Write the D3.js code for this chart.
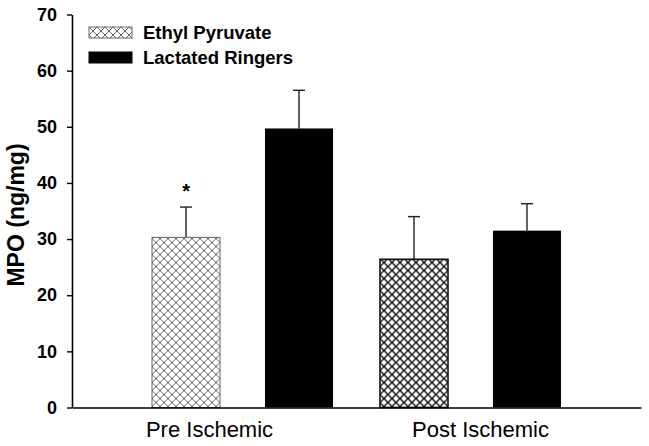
<!DOCTYPE html>
<html>
<head>
<meta charset="utf-8">
<script src="https://cdn.jsdelivr.net/npm/d3@7"></script>
<style>
  body { margin: 0; background: #fff; }
  svg { display: block; font-family: "Liberation Sans", Arial, sans-serif; }
</style>
</head>
<body>
<div id="chart"></div>
<script>
// data
const groups = ["Pre Ischemic", "Post Ischemic"];
const series = ["Ethyl Pyruvate", "Lactated Ringers"];
const means = [[30.3, 49.7], [26.4, 31.5]];
const errors = [[5.4, 6.8], [7.6, 4.8]];
const yTicks = [0, 10, 20, 30, 40, 50, 60, 70];
const starred = [[true, false], [false, false]];

const svg = d3.select("#chart").append("svg")
    .attr("width", 649)
    .attr("height", 446);

let margin = {top: 14.5, right: 8, bottom: 38.5, left: 72},
    width = 649 - margin.left - margin.right,
    height = 446 - margin.top - margin.bottom;

let defs = svg.append("defs");
function hatch(id, color, sw) {
  let p = defs.append("pattern")
      .attr("id", id)
      .attr("patternUnits", "userSpaceOnUse")
      .attr("width", 8)
      .attr("height", 8);
  p.append("rect").attr("width", 8).attr("height", 8).attr("fill", "#fff");
  p.append("path")
      .attr("d", "M0,0L8,8M8,0L0,8M-4,4L4,12M4,-4L12,4M-4,4L4,-4M4,12L12,4")
      .attr("stroke", color)
      .attr("stroke-width", sw);
}
hatch("hatchLight", "#555", 0.9);
hatch("hatchDark", "#111", 1.4);

let x0 = d3.scaleBand().domain(groups).range([0, width])
    .paddingInner(0.206).paddingOuter(0.351);
let x1 = d3.scaleBand().domain(series).range([0, x0.bandwidth()])
    .paddingInner(0.398).paddingOuter(0);
let y = d3.scaleLinear().domain([0, 70]).range([height, 0]);

let g = svg.append("g")
    .attr("transform", "translate(" + margin.left + "," + margin.top + ")");

let rows = [];
groups.forEach((grp, i) => series.forEach((s, j) => rows.push({
  grp: grp, s: s, i: i, j: j, v: means[i][j], e: errors[i][j], star: starred[i][j]
})));

function fillOf(d) {
  if (d.j === 1) return "#000";
  return d.i === 0 ? "url(#hatchLight)" : "url(#hatchDark)";
}

// error bars (upper only) behind the bars
let eb = g.selectAll(".err").data(rows).enter().append("g").attr("class", "err");
eb.append("line")
    .attr("x1", d => x0(d.grp) + x1(d.s) + x1.bandwidth() / 2)
    .attr("x2", d => x0(d.grp) + x1(d.s) + x1.bandwidth() / 2)
    .attr("y1", d => y(d.v))
    .attr("y2", d => y(d.v + d.e))
    .attr("stroke", "#222").attr("stroke-width", 1.4);
eb.append("line")
    .attr("x1", d => x0(d.grp) + x1(d.s) + x1.bandwidth() / 2 - 6)
    .attr("x2", d => x0(d.grp) + x1(d.s) + x1.bandwidth() / 2 + 6)
    .attr("y1", d => y(d.v + d.e))
    .attr("y2", d => y(d.v + d.e))
    .attr("stroke", "#222").attr("stroke-width", 1.4);

g.selectAll(".bar").data(rows).enter().append("rect")
    .attr("class", "bar")
    .attr("x", d => x0(d.grp) + x1(d.s))
    .attr("y", d => y(d.v))
    .attr("width", x1.bandwidth())
    .attr("height", d => height - y(d.v))
    .attr("fill", fillOf)
    .attr("stroke", d => d.j === 1 ? "#000" : (d.i === 0 ? "#666" : "#111"))
    .attr("stroke-width", d => d.j === 1 ? 0 : (d.i === 0 ? 1 : 1.6));

g.selectAll(".star").data(rows.filter(d => d.star)).enter().append("text")
    .attr("class", "star")
    .attr("x", d => x0(d.grp) + x1(d.s) + x1.bandwidth() / 2)
    .attr("y", d => y(d.v + d.e) - 9)
    .attr("text-anchor", "middle")
    .attr("font-size", 20)
    .attr("font-weight", "bold")
    .text("*");

// axes
let yAxis = g.append("g")
    .attr("class", "axis axis--y")
    .call(d3.axisLeft(y).tickValues(yTicks).tickSize(5).tickSizeOuter(0).tickPadding(10));
yAxis.select(".domain").attr("stroke", "#000").attr("stroke-width", 1.6);
yAxis.selectAll(".tick line").attr("stroke", "#000").attr("stroke-width", 1.4);
yAxis.selectAll("text")
    .attr("font-size", 18).attr("font-weight", "bold")
    .attr("font-family", "Liberation Sans, Arial, sans-serif")
    .attr("fill", "#000");

// the category labels sit a little off the group centres in the original
let labelShift = {"Pre Ischemic": -33, "Post Ischemic": 10};
let xAxis = g.append("g")
    .attr("class", "axis axis--x")
    .attr("transform", "translate(0," + height + ")")
    .call(d3.axisBottom(x0).tickSize(0).tickSizeOuter(0).tickPadding(14));
xAxis.select(".domain").attr("stroke", "#000").attr("stroke-width", 1.6);
xAxis.selectAll("text")
    .attr("font-size", 22)
    .attr("dx", d => labelShift[d])
    .attr("font-family", "Liberation Sans, Arial, sans-serif")
    .attr("fill", "#000");

svg.append("text")
    .attr("transform", "translate(24," + 215 + ") rotate(-90)")
    .attr("text-anchor", "middle")
    .attr("font-size", 23)
    .attr("font-weight", "bold")
    .text("MPO (ng/mg)");

// legend
let legend = svg.selectAll(".legend").data(series).enter().append("g")
    .attr("class", "legend")
    .attr("transform", (d, i) => "translate(89," + (27 + i * 25) + ")");
legend.append("rect")
    .attr("width", 43).attr("height", 11)
    .attr("fill", (d, i) => i === 0 ? "url(#hatchLight)" : "#000")
    .attr("stroke", (d, i) => i === 0 ? "#666" : "#000")
    .attr("stroke-width", 1);
legend.append("text")
    .attr("x", 54).attr("y", 12)
    .attr("font-size", 18.5).attr("font-weight", "bold")
    .text(d => d);
</script>
</body>
</html>
